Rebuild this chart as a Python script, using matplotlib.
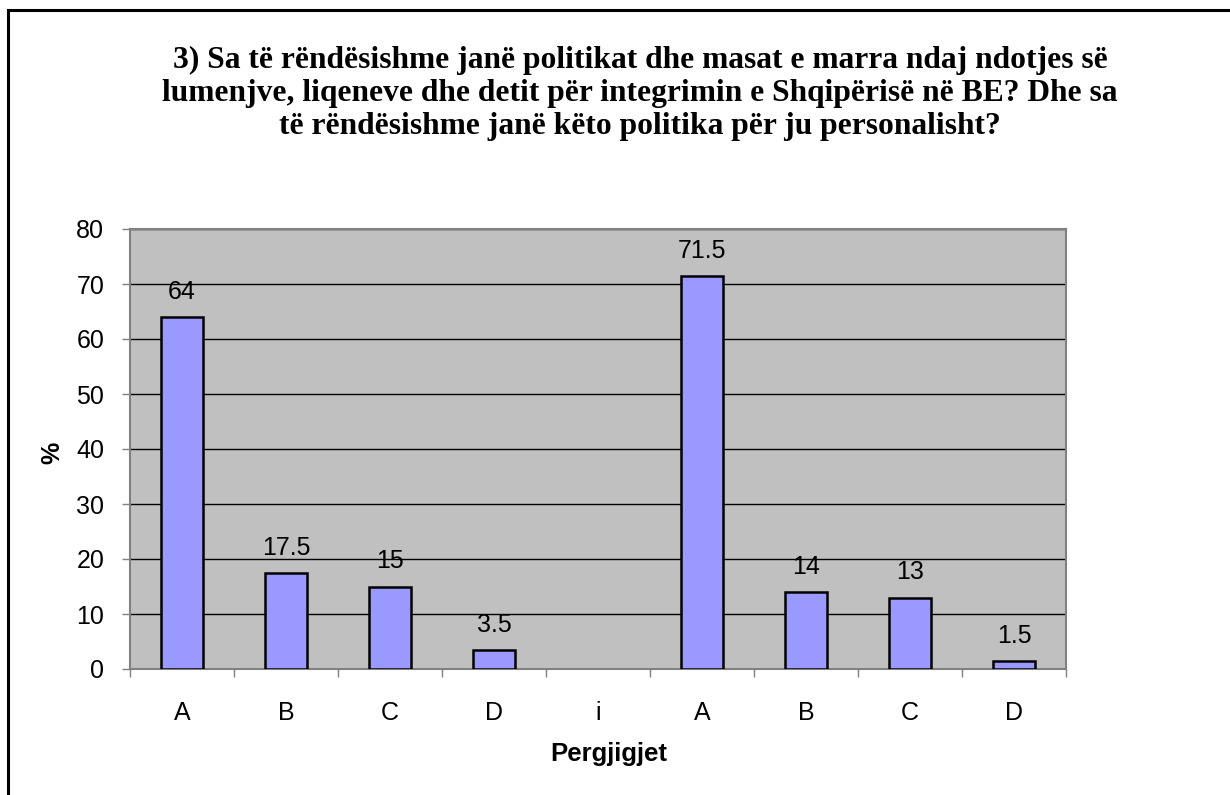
import numpy as np
import matplotlib
matplotlib.use("Agg")
import matplotlib.pyplot as plt
from matplotlib.lines import Line2D

categories = ["A", "B", "C", "D", "i", "A", "B", "C", "D"]
values = [64, 17.5, 15, 3.5, np.nan, 71.5, 14, 13, 1.5]
value_labels = ["64", "17.5", "15", "3.5", "", "71.5", "14", "13", "1.5"]
yticks = [0, 10, 20, 30, 40, 50, 60, 70, 80]
title_lines = [
    "3) Sa të rëndësishme janë politikat dhe masat e marra ndaj ndotjes së",
    "lumenjve, liqeneve dhe detit për integrimin e Shqipërisë në BE? Dhe sa",
    "të rëndësishme janë këto politika për ju personalisht?",
]
xlabel = "Pergjigjet"
ylabel = "%"

W, H = 1230, 795
fig = plt.figure(figsize=(W / 100, H / 100), dpi=100)
fig.patch.set_facecolor("white")

left, right, top, bottom = 130, 1066, 229, 669
ax = fig.add_axes([left / W, 1 - bottom / H, (right - left) / W, (bottom - top) / H])
ax.set_facecolor("#C0C0C0")

FS = 18
x = np.arange(len(categories))
ax.bar(x, values, width=0.405, color="#9999FF", edgecolor="black", linewidth=1.8, zorder=3)

for xi, v, lab in zip(x, values, value_labels):
    if lab and not np.isnan(v):
        ax.annotate(lab, (xi, v), xytext=(0, 9.5), textcoords="offset points",
                    ha="center", va="bottom", fontsize=FS, family="Liberation Sans")

ax.set_xlim(-0.5, len(categories) - 0.5)
ax.set_ylim(0, 80)
ax.set_yticks(yticks)
ax.set_yticklabels([str(t) for t in yticks], fontsize=FS, family="Liberation Sans")
ax.yaxis.grid(True, color="black", linewidth=1.0, zorder=0)
ax.set_axisbelow(True)

ax.set_xticks(x)
ax.set_xticklabels(categories, fontsize=FS, family="Liberation Sans")
ax.set_xticks(np.arange(len(categories) + 1) - 0.5, minor=True)
ax.tick_params(axis="x", which="major", length=0, pad=23)
ax.tick_params(axis="x", which="minor", length=5.5, width=1, color="#808080")
ax.tick_params(axis="y", length=5.5, width=1, color="#808080", pad=13)

for s in ax.spines.values():
    s.set_color("#808080")
    s.set_linewidth(1.5)

ax.set_xlabel(xlabel, fontsize=18.5, fontweight="bold", family="Liberation Sans")
ax.xaxis.set_label_coords((608.5 - left) / (right - left), (bottom - 742) / (bottom - top))
ax.set_ylabel(ylabel, fontsize=FS, fontweight="bold", family="Liberation Sans",
              va="center")
ax.yaxis.set_label_coords((52 - left) / (right - left), (bottom - 453) / (bottom - top))

baselines = [68, 101, 134]
for line, yb in zip(title_lines, baselines):
    fig.text(640 / W, 1 - yb / H, line, ha="center", va="baseline", fontsize=22.7,
             fontweight="bold", family="Liberation Serif")

# figure border (top and left only visible)
fig.add_artist(Line2D([8 / W, 1.0], [1 - 10 / H, 1 - 10 / H], color="black", linewidth=2.2,
                      transform=fig.transFigure))
fig.add_artist(Line2D([8 / W, 8 / W], [1 - 10 / H, 0.0], color="black", linewidth=2.2,
                      transform=fig.transFigure))

fig.savefig("out.png", dpi=100)
